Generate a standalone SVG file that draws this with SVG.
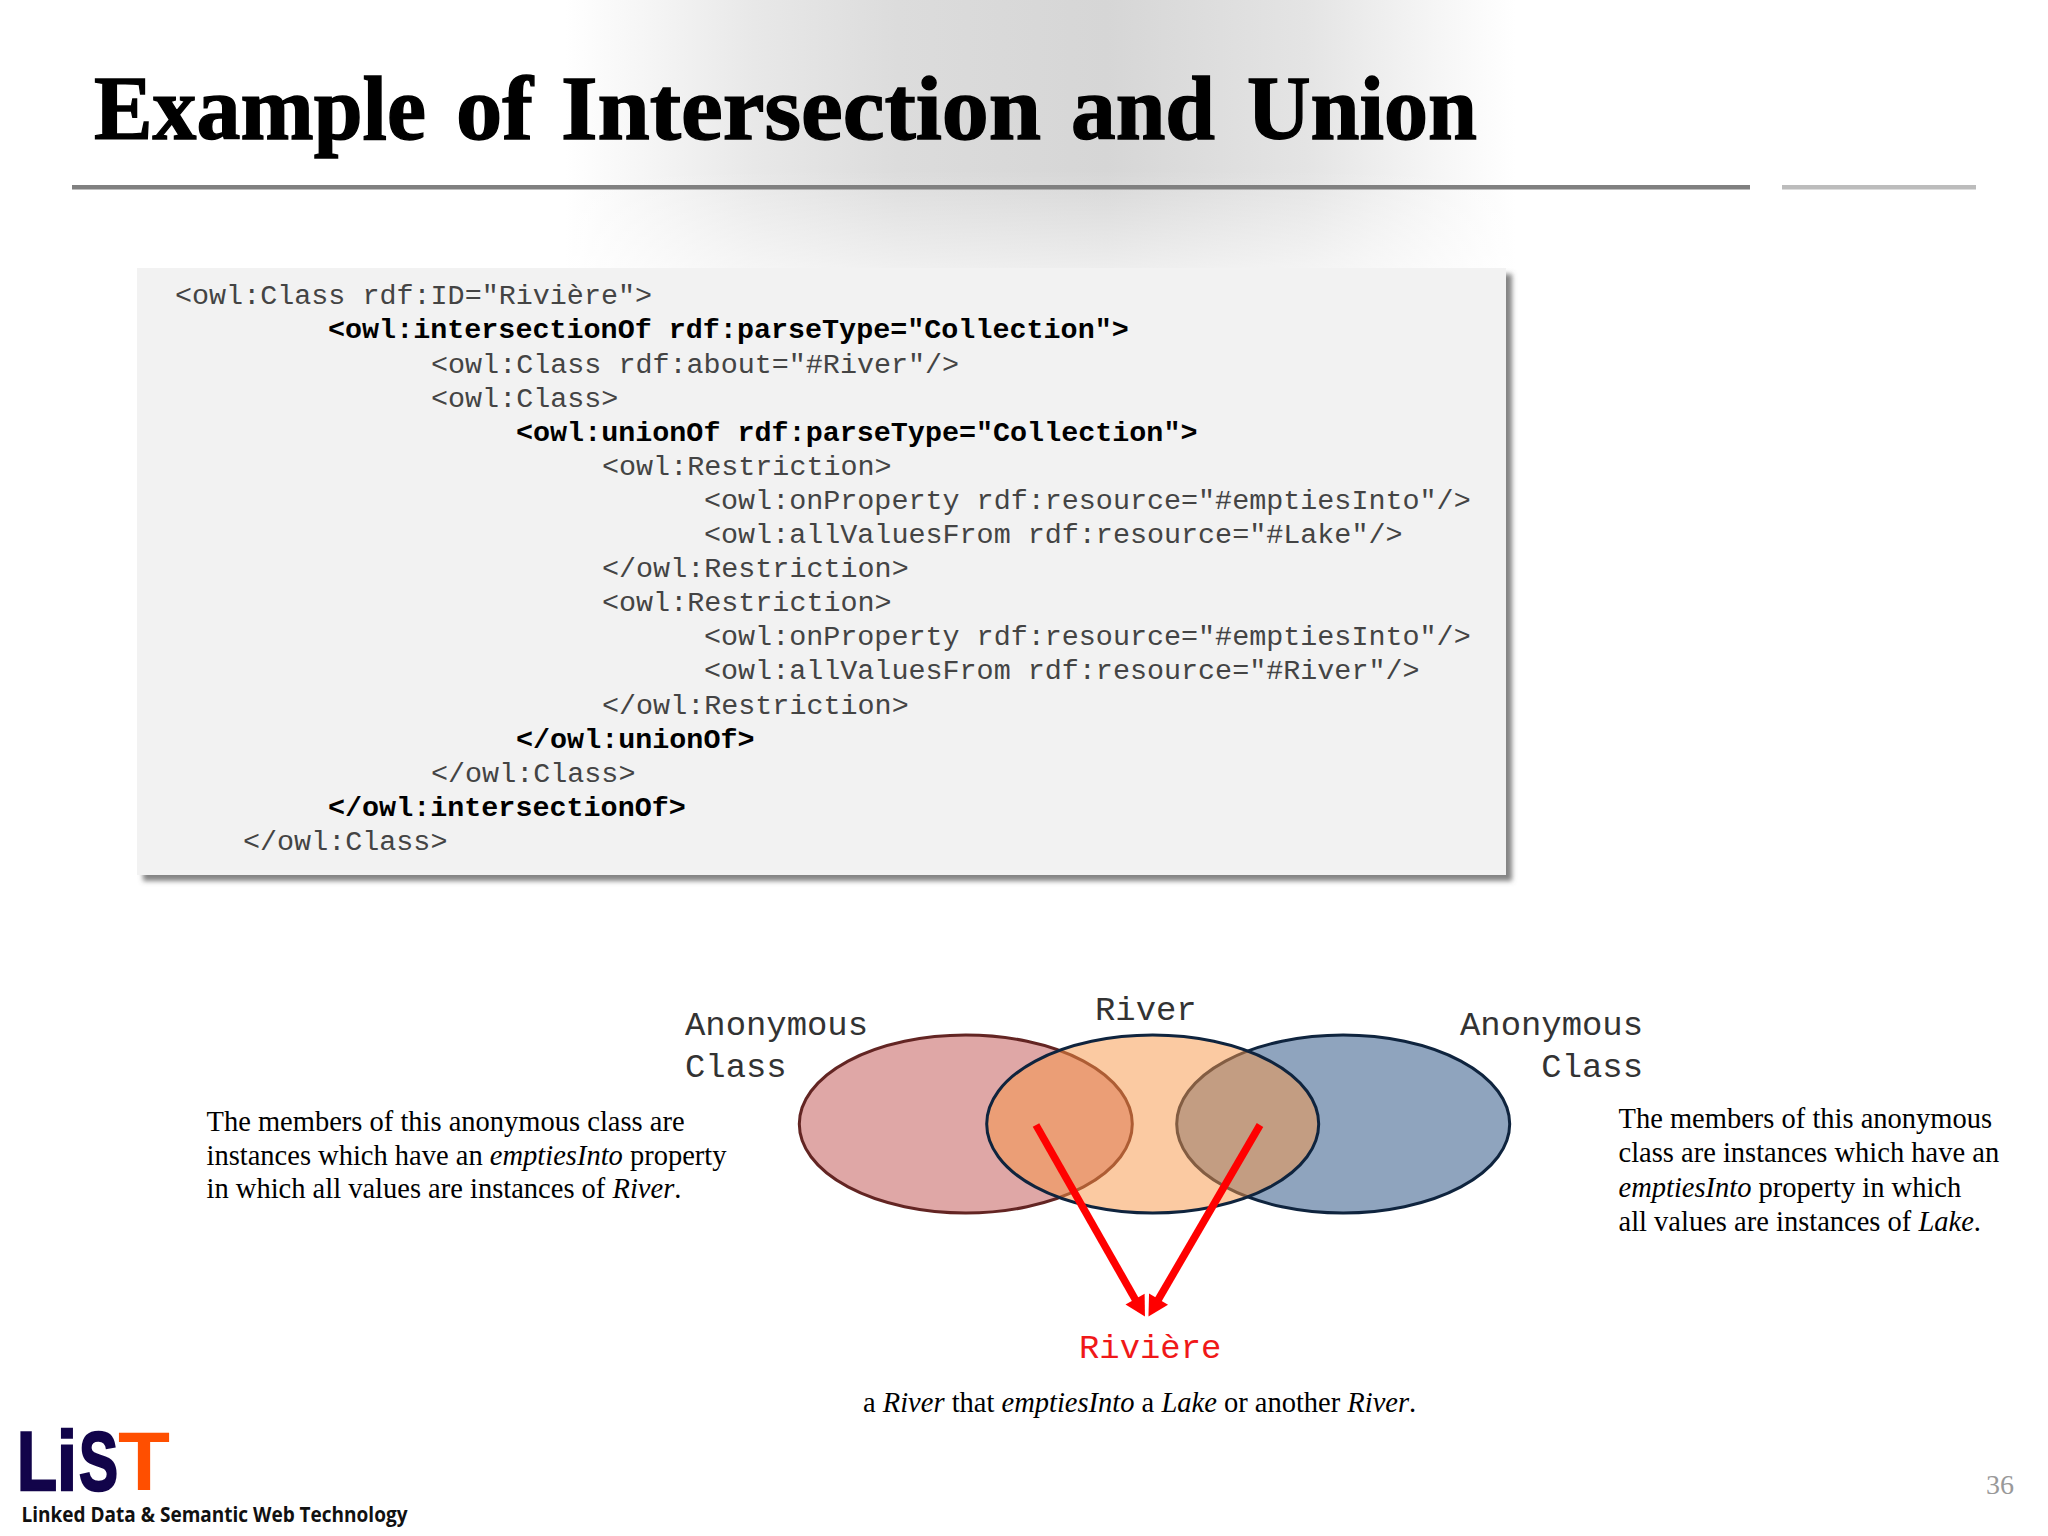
<svg xmlns="http://www.w3.org/2000/svg" width="2048" height="1536" viewBox="0 0 2048 1536">
<style>
text{white-space:pre}
.code{font-family:"Liberation Mono",monospace;font-size:28.4px;fill:#444}
.b{font-weight:700;fill:#000}
.lab{font-family:"Liberation Mono",monospace;font-size:33.9px;fill:#333}
.body{font-family:"Liberation Serif",serif;font-size:28.5px;fill:#000}
.i{font-style:italic}
.ell{stroke-width:3;fill-opacity:.5}
.arrow{stroke:#f00;stroke-width:7.5;fill:none;marker-end:url(#head)}
</style>
<defs>
<linearGradient id="band" gradientUnits="userSpaceOnUse" x1="565" y1="0" x2="1515" y2="0">
<stop offset="0" stop-color="#fff"/><stop offset=".08" stop-color="#f6f6f6"/><stop offset=".2" stop-color="#e8e8e8"/><stop offset=".35" stop-color="#dcdcdc"/><stop offset=".57" stop-color="#d6d6d6"/><stop offset=".78" stop-color="#e4e4e4"/><stop offset=".92" stop-color="#f6f6f6"/><stop offset="1" stop-color="#fff"/>
</linearGradient>
<linearGradient id="fade" gradientUnits="userSpaceOnUse" x1="0" y1="170" x2="0" y2="290">
<stop offset="0" stop-color="#fff" stop-opacity="0"/><stop offset="1" stop-color="#fff" stop-opacity=".7"/>
</linearGradient>
<filter id="sh" x="-3%" y="-3%" width="106%" height="108%">
<feDropShadow dx="6" dy="6" stdDeviation="2.5" flood-color="#777" flood-opacity=".9"/>
</filter>
<marker id="head" markerUnits="userSpaceOnUse" markerWidth="20" markerHeight="22" refX="12" refY="11" orient="auto" overflow="visible">
<path d="M0,0L20,11L0,22z" fill="#f00"/>
</marker>
</defs>
<rect width="2048" height="1536" fill="#fff"/>
<g id="background">
<rect x="565" y="0" width="950" height="300" fill="url(#band)"/>
<rect x="565" y="170" width="950" height="130" fill="url(#fade)"/>
</g>
<g id="title">
<text y="139" font-family="'Liberation Serif',serif" font-weight="700" font-size="92" fill="#000" stroke="#000" stroke-width="1.4"><tspan x="94" textLength="332" lengthAdjust="spacingAndGlyphs">Example</tspan> <tspan x="456" textLength="77" lengthAdjust="spacingAndGlyphs">of</tspan> <tspan x="561" textLength="480" lengthAdjust="spacingAndGlyphs">Intersection</tspan> <tspan x="1071" textLength="144" lengthAdjust="spacingAndGlyphs">and</tspan> <tspan x="1247" textLength="230" lengthAdjust="spacingAndGlyphs">Union</tspan></text>
<rect x="72" y="185" width="1678" height="4.5" fill="#808080"/>
<rect x="1782" y="185" width="194" height="4.5" fill="#bcbcbc"/>
</g>
<g id="code-panel">
<rect x="137" y="268" width="1369" height="607" fill="#f2f2f2" filter="url(#sh)"/>
<text class="code" x="175" y="304.3">&lt;owl:Class rdf:ID="Rivière"&gt;</text>
<text class="code b" x="328" y="338.4">&lt;owl:intersectionOf rdf:parseType="Collection"&gt;</text>
<text class="code" x="431" y="372.5">&lt;owl:Class rdf:about="#River"/&gt;</text>
<text class="code" x="431" y="406.6">&lt;owl:Class&gt;</text>
<text class="code b" x="516" y="440.7">&lt;owl:unionOf rdf:parseType="Collection"&gt;</text>
<text class="code" x="602" y="474.8">&lt;owl:Restriction&gt;</text>
<text class="code" x="704" y="508.9">&lt;owl:onProperty rdf:resource="#emptiesInto"/&gt;</text>
<text class="code" x="704" y="543">&lt;owl:allValuesFrom rdf:resource="#Lake"/&gt;</text>
<text class="code" x="602" y="577.1">&lt;/owl:Restriction&gt;</text>
<text class="code" x="602" y="611.2">&lt;owl:Restriction&gt;</text>
<text class="code" x="704" y="645.3">&lt;owl:onProperty rdf:resource="#emptiesInto"/&gt;</text>
<text class="code" x="704" y="679.4">&lt;owl:allValuesFrom rdf:resource="#River"/&gt;</text>
<text class="code" x="602" y="713.5">&lt;/owl:Restriction&gt;</text>
<text class="code b" x="516" y="747.6">&lt;/owl:unionOf&gt;</text>
<text class="code" x="431" y="781.7">&lt;/owl:Class&gt;</text>
<text class="code b" x="328" y="815.8">&lt;/owl:intersectionOf&gt;</text>
<text class="code" x="243" y="849.9">&lt;/owl:Class&gt;</text>
</g>
<g id="venn-left"><ellipse class="ell" cx="965.8" cy="1124" rx="166.5" ry="89" fill="#c0504d" stroke="#632523"/></g>
<g id="venn-right"><ellipse class="ell" cx="1343.2" cy="1124" rx="166.5" ry="89" fill="#1f497d" stroke="#0f243e"/></g>
<g id="venn-river"><ellipse class="ell" cx="1152.7" cy="1124" rx="166" ry="89" fill="#f79646" stroke="#0f243e"/></g>
<g id="connectors">
<line class="arrow" x1="1036" y1="1125" x2="1141" y2="1309.5"/>
<line class="arrow" x1="1260" y1="1125" x2="1152.5" y2="1309.5"/>
</g>
<g id="label-anon-left">
<text class="lab" x="685" y="1034.5">Anonymous</text>
<text class="lab" x="685" y="1076.5">Class</text>
</g>
<g id="label-river"><text class="lab" x="1095" y="1020">River</text></g>
<g id="label-anon-right">
<text class="lab" x="1643" y="1034.5" text-anchor="end">Anonymous</text>
<text class="lab" x="1643" y="1076.5" text-anchor="end">Class</text>
</g>
<g id="label-riviere"><text class="lab" x="1079" y="1358" style="fill:#f01818">Rivière</text></g>
<g id="note-left">
<text class="body" x="206.5" y="1130.7">The members of this anonymous class are</text>
<text class="body" x="206.5" y="1164.5">instances which have an <tspan class="i">emptiesInto</tspan> property</text>
<text class="body" x="206.5" y="1198.3">in which all values are instances of <tspan class="i">River</tspan>.</text>
</g>
<g id="note-right">
<text class="body" x="1618.5" y="1128.3">The members of this anonymous</text>
<text class="body" x="1618.5" y="1162.4">class are instances which have an</text>
<text class="body" x="1618.5" y="1196.6"><tspan class="i">emptiesInto</tspan> property in which</text>
<text class="body" x="1618.5" y="1230.7">all values are instances of <tspan class="i">Lake</tspan>.</text>
</g>
<g id="note-bottom">
<text class="body" x="863" y="1412">a <tspan class="i">River</tspan> that <tspan class="i">emptiesInto</tspan> a <tspan class="i">Lake</tspan> or another <tspan class="i">River</tspan>.</text>
</g>
<g id="logo" font-family="'Liberation Sans',sans-serif" font-weight="700" font-size="84">
<text y="1490" fill="#12044a" stroke="#12044a" stroke-width="2.5"><tspan x="17" textLength="40" lengthAdjust="spacingAndGlyphs">L</tspan><tspan x="57" textLength="20" lengthAdjust="spacingAndGlyphs">i</tspan><tspan x="79" textLength="39" lengthAdjust="spacingAndGlyphs">S</tspan><tspan x="118" textLength="52" lengthAdjust="spacingAndGlyphs" fill="#ff4f00" stroke="none">T</tspan></text>
<text x="21.5" y="1521.5" font-family="'Open Sans',sans-serif" font-size="21" fill="#111" textLength="386" lengthAdjust="spacingAndGlyphs">Linked Data &amp; Semantic Web Technology</text>
</g>
<g id="page-number"><text x="2014" y="1494" text-anchor="end" font-family="'Liberation Serif',serif" font-size="28" fill="#999">36</text></g>
</svg>
